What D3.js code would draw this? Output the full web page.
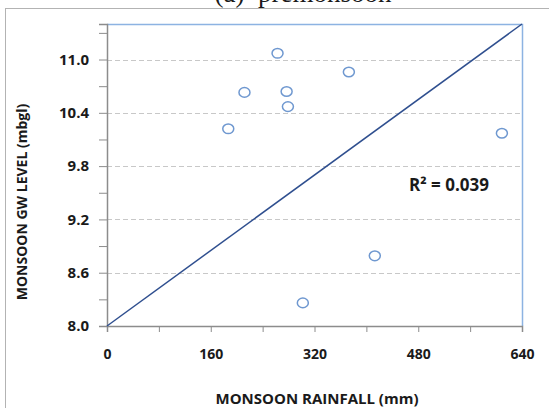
<!DOCTYPE html>
<html lang="en">
<head>
<meta charset="UTF-8">
<title>premonsoon</title>
<script src="https://cdn.jsdelivr.net/npm/d3@7"></script>
<style>
  body { margin: 0; background: #fff; }
  svg text { font-family: "Open Sans", Lato, sans-serif; font-weight: bold; fill: #1a1a1a; }
</style>
</head>
<body>
<svg width="549" height="408"></svg>
<script>
// monsoon rainfall (mm) vs monsoon GW level (mbgl)
var rainfall = [263, 373, 212, 277, 279, 187, 413, 302, 609];
var gwLevel  = [11.07, 10.86, 10.63, 10.64, 10.47, 10.22, 8.79, 8.26, 10.17];
var trendX = [0, 640];
var trendY = [8.0, 11.4];
var xTicks = [0, 160, 320, 480, 640];
var yTicks = [8.0, 8.6, 9.2, 9.8, 10.4, 11.0];
var r2Label = "R² = 0.039";

var svg = d3.select("svg");
var plotL = 107, plotR = 522, plotT = 24, plotB = 326;

var x = d3.scaleLinear().domain([0, 640]).range([plotL, plotR]);
var y = d3.scaleLinear().domain([8.0, 11.4]).range([plotB, plotT]);

// title (cut off at the top, as in the source)
svg.append("text")
    .attr("x", 303).attr("y", 2)
    .attr("text-anchor", "middle")
    .attr("xml:space", "preserve")
    .style("font-family", "'Liberation Serif', serif")
    .style("font-weight", "normal")
    .style("font-size", "27px")
    .style("white-space", "pre")
    .text("(a)  premonsoon");

// outer chart frame
svg.append("rect")
    .attr("x", 5.5).attr("y", 8.5)
    .attr("width", 560).attr("height", 420)
    .attr("fill", "none").attr("stroke", "#b3b3b3");

// grid lines
svg.append("g").selectAll("line")
    .data(yTicks.slice(1))
    .enter().append("line")
    .attr("x1", plotL).attr("x2", plotR)
    .attr("y1", function(d){ return Math.round(y(d)) + 0.5; })
    .attr("y2", function(d){ return Math.round(y(d)) + 0.5; })
    .attr("stroke", "#c8c8c8")
    .attr("stroke-dasharray", "5,3");

// plot border top/right
svg.append("path")
    .attr("d", "M" + plotL + "," + (plotT + 0.5) + "H" + (plotR + 0.5) + "V" + plotB)
    .attr("fill", "none").attr("stroke", "#8db3e2").attr("stroke-width", 1.5);

// x axis
var xAxis = d3.axisBottom(x)
    .tickValues(d3.range(0, 641, 80))
    .tickSize(6)
    .tickFormat(function(d){ return xTicks.indexOf(d) >= 0 ? d3.format("d")(d) : ""; });
var gx = svg.append("g").attr("transform", "translate(0," + plotB + ")").call(xAxis);
gx.select(".domain").attr("stroke", "#8c8c8c").attr("stroke-width", 1.5);
gx.selectAll(".tick line").attr("stroke", "#8c8c8c");
gx.selectAll("text").attr("dy", 0).attr("y", 33).style("font-size", "14px");

// y axis
var yAxis = d3.axisLeft(y)
    .tickValues(d3.range(0, 12).map(function(i){ return 8.0 + i * 0.3; }))
    .tickSize(8)
    .tickFormat(function(d, i){ return i % 2 === 0 ? d3.format(".1f")(d) : ""; });
var gy = svg.append("g").attr("transform", "translate(" + plotL + ",0)").call(yAxis);
gy.select(".domain").attr("stroke", "#8c8c8c").attr("stroke-width", 1.5);
gy.selectAll(".tick line").attr("stroke", "#8c8c8c");
gy.selectAll("text").attr("x", -18).style("font-size", "15px");

// trend line
svg.append("path")
    .datum(d3.zip(trendX, trendY))
    .attr("d", d3.line().x(function(d){ return x(d[0]); }).y(function(d){ return y(d[1]); }))
    .attr("fill", "none").attr("stroke", "#2f4f8f").attr("stroke-width", 1.5);

// points
svg.append("g").selectAll("ellipse")
    .data(d3.zip(rainfall, gwLevel))
    .enter().append("ellipse")
    .attr("cx", function(d){ return x(d[0]); })
    .attr("cy", function(d){ return y(d[1]); })
    .attr("rx", 5.5).attr("ry", 4.8)
    .attr("fill", "#fff")
    .attr("stroke", "#6f98d0").attr("stroke-width", 1.5);

// R2 label
svg.append("text")
    .attr("x", 409).attr("y", 191)
    .style("font-size", "17px")
    .text(r2Label);

// axis titles
svg.append("text")
    .attr("x", 317).attr("y", 404)
    .attr("text-anchor", "middle")
    .style("font-size", "15px")
    .text("MONSOON RAINFALL (mm)");

svg.append("text")
    .attr("transform", "translate(27,202) rotate(-90)")
    .attr("text-anchor", "middle")
    .style("font-size", "14px")
    .text("MONSOON GW LEVEL (mbgl)");
</script>
</body>
</html>
